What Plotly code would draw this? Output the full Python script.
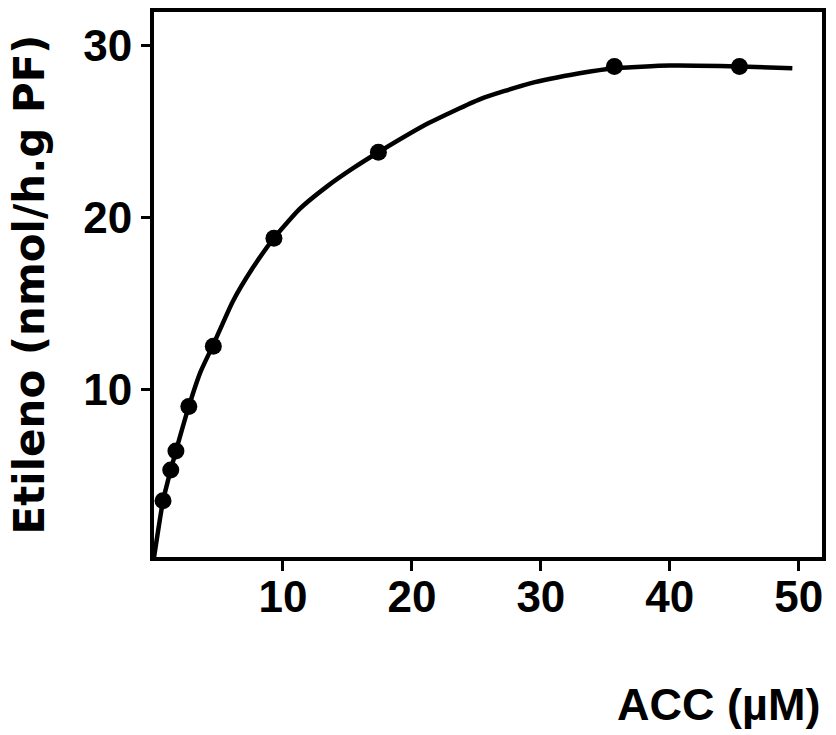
import plotly.graph_objects as go

# Measured data points
acc_points = [0.7, 1.3, 1.7, 2.7, 4.6, 9.3, 17.4, 35.7, 45.4]
eth_points = [3.5, 5.3, 6.4, 9.0, 12.5, 18.8, 23.8, 28.8, 28.8]

# Fitted curve
acc_curve = [0, 0.7, 1.3, 1.7, 2.7, 3.6, 4.6, 6.1, 7.6, 9.3, 11.3, 13.4, 15.5, 17.4,
             21.3, 25.3, 29.1, 33.0, 35.7, 40.0, 45.4, 49.5]
eth_curve = [0.2, 3.5, 5.3, 6.4, 9.0, 11.0, 12.6, 15.1, 17.0, 18.8, 20.5, 21.8, 22.9, 23.8,
             25.5, 26.9, 27.8, 28.4, 28.7, 28.85, 28.8, 28.7]

x_ticks = [10, 20, 30, 40, 50]
y_ticks = [10, 20, 30]

fig = go.Figure()
fig.add_trace(go.Scatter(x=acc_curve, y=eth_curve, mode="lines",
                         line=dict(color="black", width=4.5, shape="spline", smoothing=0.5),
                         showlegend=False, hoverinfo="skip"))
fig.add_trace(go.Scatter(x=acc_points, y=eth_points, mode="markers",
                         marker=dict(color="black", size=17),
                         showlegend=False))

tickfont = dict(family="Liberation Sans", size=44, color="black")

fig.update_layout(
    width=836, height=735,
    margin=dict(l=154, r=14, t=8, b=178),
    paper_bgcolor="white", plot_bgcolor="white",
    font=dict(family="Liberation Sans", color="black"),
    xaxis=dict(range=[0, 51.8], tickvals=x_ticks, ticktext=[f"<b>{v}</b>" for v in x_ticks],
               showgrid=False, zeroline=False, showline=True, linecolor="black", linewidth=4,
               mirror=True, ticks="outside", ticklen=10, tickwidth=3, tickcolor="black",
               tickfont=tickfont, ticklabelstandoff=-12),
    yaxis=dict(range=[0.23, 31.97], tickvals=y_ticks, ticktext=[f"<b>{v}</b>" for v in y_ticks],
               showgrid=False, zeroline=False, showline=True, linecolor="black", linewidth=4,
               mirror=True, ticks="outside", ticklen=9, tickwidth=3, tickcolor="black",
               tickfont=tickfont,
               title=dict(text="<b>Etileno (nmol/h.g PF)</b>",
                          font=dict(family="DejaVu Sans", size=42, color="black"),
                          standoff=27)),
    annotations=[dict(text="<b>ACC (µM)</b>", xref="paper", yref="paper",
                      x=1.0, y=-0.27, xanchor="right", yanchor="middle", showarrow=False,
                      font=dict(family="Liberation Sans", size=45, color="black"))],
)

fig.write_html("out.html")
